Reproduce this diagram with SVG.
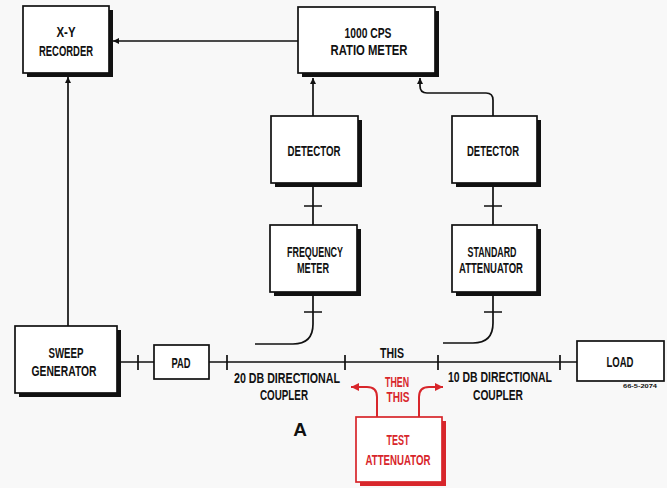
<svg xmlns="http://www.w3.org/2000/svg" width="667" height="488" viewBox="0 0 667 488">
<defs>
<style>
.box{fill:#fff;stroke:#111;stroke-width:1.7}
.sh{fill:#111}
.rbox{fill:#fff;stroke:#d8262b;stroke-width:1.7}
.rsh{fill:#d8262b}
.ln{fill:none;stroke:#111;stroke-width:1.7}
.rln{fill:none;stroke:#d8262b;stroke-width:2}
text{font-family:"Liberation Sans",Arial,sans-serif;font-weight:bold;font-size:14px;fill:#111;text-anchor:middle}
.red{fill:#d8262b}
</style>
<marker id="ah" viewBox="0 0 10 10" refX="10" refY="5" markerWidth="6" markerHeight="6" markerUnits="userSpaceOnUse" orient="auto"><path d="M0,0 L10,5 L0,10 z" fill="#111"/></marker>
<marker id="rah" viewBox="0 0 10 10" refX="10" refY="5" markerWidth="8" markerHeight="8" markerUnits="userSpaceOnUse" orient="auto"><path d="M0,0 L10,5 L0,10 z" fill="#d8262b"/></marker>
</defs>
<rect width="667" height="488" fill="#f8f8f8"/>

<g id="connectors">
<path class="ln" d="M298,41 H113" marker-end="url(#ah)"/>
<path class="ln" d="M68,326 V77" marker-end="url(#ah)"/>
<path class="ln" d="M313,116 V78" marker-end="url(#ah)"/>
<path class="ln" d="M493,116 V100 Q493,93 486,93 H427 Q420,93 420,86 V78" marker-end="url(#ah)"/>
<path class="ln" d="M313,187 V225 M304,206 H322"/>
<path class="ln" d="M493,187 V225 M484,206 H502"/>
<path class="ln" d="M313,296 V324 Q313,344 293,344 H255 M304,312 H322"/>
<path class="ln" d="M493,296 V323 Q493,343 473,343 H443 M484,312 H502"/>
<path class="ln" d="M117,362 H154 M209,362 H577"/>
<path class="ln" d="M138,355 V370 M227,355 V370 M345,355 V370 M438,355 V370 M560,355 V370"/>
<path class="rln" d="M377,417 V397 Q377,387 367,387 H351" marker-end="url(#rah)"/>
<path class="rln" d="M419,417 V397 Q419,387 429,387 H443" marker-end="url(#rah)"/>
</g>

<g id="recorder">
<rect class="sh" x="27" y="10" width="86" height="67"/>
<rect class="box" x="23" y="6" width="86" height="67"/>
<text x="66" y="37" textLength="19" lengthAdjust="spacingAndGlyphs">X-Y</text>
<text x="66" y="56" textLength="54" lengthAdjust="spacingAndGlyphs">RECORDER</text>
</g>

<g id="ratio-meter">
<rect class="sh" x="302" y="11" width="137" height="66"/>
<rect class="box" x="298" y="7" width="137" height="66"/>
<text x="368" y="38" textLength="47" lengthAdjust="spacingAndGlyphs">1000 CPS</text>
<text x="369" y="55" textLength="77" lengthAdjust="spacingAndGlyphs">RATIO  METER</text>
</g>

<g id="detector-left">
<rect class="sh" x="275" y="120" width="87" height="67"/>
<rect class="box" x="271" y="116" width="87" height="67"/>
<text x="314" y="156" textLength="53" lengthAdjust="spacingAndGlyphs">DETECTOR</text>
</g>

<g id="detector-right">
<rect class="sh" x="456" y="120" width="85" height="67"/>
<rect class="box" x="452" y="116" width="85" height="67"/>
<text x="493" y="156" textLength="52" lengthAdjust="spacingAndGlyphs">DETECTOR</text>
</g>

<g id="frequency-meter">
<rect class="sh" x="274" y="229" width="87" height="67"/>
<rect class="box" x="270" y="225" width="87" height="67"/>
<text x="315" y="257" textLength="56" lengthAdjust="spacingAndGlyphs">FREQUENCY</text>
<text x="313" y="273" textLength="32" lengthAdjust="spacingAndGlyphs">METER</text>
</g>

<g id="standard-attenuator">
<rect class="sh" x="456" y="229" width="85" height="67"/>
<rect class="box" x="452" y="225" width="85" height="67"/>
<text x="492" y="257" textLength="49" lengthAdjust="spacingAndGlyphs">STANDARD</text>
<text x="491" y="273" textLength="64" lengthAdjust="spacingAndGlyphs">ATTENUATOR</text>
</g>

<g id="sweep-generator">
<rect class="sh" x="19" y="330" width="102" height="67"/>
<rect class="box" x="15" y="326" width="102" height="67"/>
<text x="66" y="358" textLength="35" lengthAdjust="spacingAndGlyphs">SWEEP</text>
<text x="64" y="376" textLength="65" lengthAdjust="spacingAndGlyphs">GENERATOR</text>
</g>

<g id="pad">
<rect class="box" x="154" y="345" width="55" height="34"/>
<text x="181" y="368" textLength="19" lengthAdjust="spacingAndGlyphs">PAD</text>
</g>

<g id="coupler-20db">
<text x="287" y="383" textLength="106" lengthAdjust="spacingAndGlyphs">20 DB DIRECTIONAL</text>
<text x="284" y="400" textLength="48" lengthAdjust="spacingAndGlyphs">COUPLER</text>
</g>

<g id="this-label">
<text x="392" y="358" textLength="24" lengthAdjust="spacingAndGlyphs">THIS</text>
</g>

<g id="coupler-10db">
<text x="500" y="382" textLength="104" lengthAdjust="spacingAndGlyphs">10 DB DIRECTIONAL</text>
<text x="498" y="400" textLength="50" lengthAdjust="spacingAndGlyphs">COUPLER</text>
</g>

<g id="load">
<rect class="box" x="577" y="341" width="87" height="40"/>
<text x="620" y="367" textLength="27" lengthAdjust="spacingAndGlyphs">LOAD</text>
<text x="640" y="388" style="font-size:5px" textLength="34" lengthAdjust="spacingAndGlyphs">66-5-2074</text>
</g>

<g id="then-this">
<text class="red" x="397" y="387" textLength="24" lengthAdjust="spacingAndGlyphs">THEN</text>
<text class="red" x="398" y="402" textLength="23" lengthAdjust="spacingAndGlyphs">THIS</text>
</g>

<g id="test-attenuator">
<rect class="rsh" x="360" y="421" width="86" height="65"/>
<rect class="rbox" x="356" y="417" width="86" height="65"/>
<text class="red" x="398" y="445" textLength="23" lengthAdjust="spacingAndGlyphs">TEST</text>
<text class="red" x="398" y="465" textLength="65" lengthAdjust="spacingAndGlyphs">ATTENUATOR</text>
</g>

<g id="label-a">
<text x="300" y="436" style="font-size:19px;font-weight:900">A</text>
</g>
</svg>
